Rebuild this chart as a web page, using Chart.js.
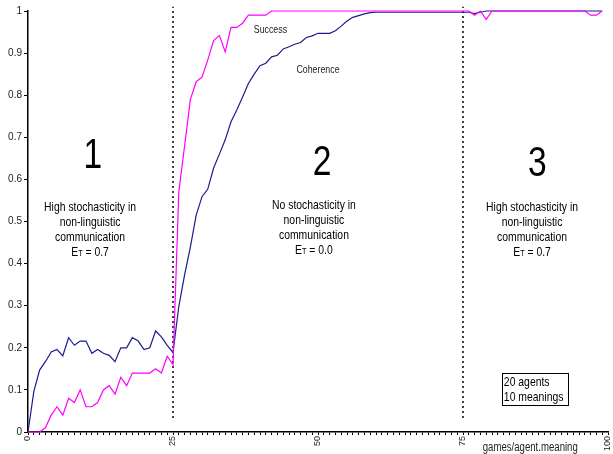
<!DOCTYPE html>
<html>
<head>
<meta charset="utf-8">
<script src="https://cdn.jsdelivr.net/npm/chart.js@4/dist/chart.umd.min.js"></script>
<style>
  body { margin: 0; background: #fff; }
  canvas { display: block; }
</style>
</head>
<body>
<canvas id="chart" width="613" height="454"></canvas>
<script>
// games/agent.meaning, one value per step 0..99
var coherence = [
  0, 0.096, 0.147, 0.167, 0.19, 0.196, 0.181, 0.224, 0.206, 0.216,
  0.216, 0.187, 0.196, 0.187, 0.182, 0.167, 0.2, 0.2, 0.224, 0.216,
  0.196, 0.2, 0.24, 0.226, 0.206, 0.189, 0.298, 0.373, 0.44, 0.515,
  0.559, 0.577, 0.627, 0.66, 0.694, 0.737, 0.765, 0.796, 0.828, 0.85,
  0.87, 0.876, 0.891, 0.895, 0.91, 0.915, 0.921, 0.925, 0.937, 0.941,
  0.947, 0.947, 0.947, 0.953, 0.964, 0.976, 0.985, 0.989, 0.993, 0.996,
  0.997, 0.997, 0.997, 0.997, 0.997, 0.997, 0.997, 0.997, 0.997, 0.997,
  0.997, 0.997, 0.997, 0.997, 0.997, 0.997, 0.997, 0.994, 0.997, 1,
  1, 1, 1, 1, 1, 1, 1, 1, 1, 1,
  1, 1, 1, 1, 1, 1, 1, 1, 1, 1
];
var success = [
  0, 0, 0, 0.01, 0.04, 0.06, 0.04, 0.08, 0.07, 0.1,
  0.06, 0.06, 0.07, 0.1, 0.11, 0.09, 0.13, 0.11, 0.14, 0.14,
  0.14, 0.14, 0.15, 0.14, 0.18, 0.16, 0.57, 0.68, 0.79, 0.832,
  0.843, 0.884, 0.93, 0.942, 0.903, 0.961, 0.961, 0.971, 0.99, 0.99,
  0.99, 0.99, 1, 1, 1, 1, 1, 1, 1, 1,
  1, 1, 1, 1, 1, 1, 1, 1, 1, 1,
  1, 1, 1, 1, 1, 1, 1, 1, 1, 1,
  1, 1, 1, 1, 1, 1, 1, 0.99, 1, 0.98,
  1, 1, 1, 1, 1, 1, 1, 1, 1, 1,
  1, 1, 1, 1, 1, 1, 1, 0.99, 0.99, 1
];
var phaseBounds = [25, 75];
var xTickLabels = [0, 25, 50, 75, 100];
var phaseNumbers = ['1', '2', '3'];
var phaseText = [
  ['High stochasticity in', 'non-linguistic', 'communication', '0.7'],
  ['No stochasticity in', 'non-linguistic', 'communication', '0.0'],
  ['High stochasticity in', 'non-linguistic', 'communication', '0.7']
];
var boxText = ['20 agents', '10 meanings'];
var xTitle = 'games/agent.meaning';

var FONT = '"Liberation Sans", Arial, sans-serif';
var NARROW = 0.8;

function toPoints(arr) {
  return arr.map(function(v, i) { return { x: i, y: v }; });
}

var datasets = [
  {
    label: 'Success',
    data: toPoints(success),
    borderColor: '#ff00ff',
    borderWidth: 1.2,
    pointRadius: 0,
    tension: 0,
    clip: false
  },
  {
    label: 'Coherence',
    data: toPoints(coherence),
    borderColor: '#1c1c8c',
    borderWidth: 1.2,
    pointRadius: 0,
    tension: 0,
    clip: false
  }
];
phaseBounds.forEach(function(b) {
  datasets.push({
    label: 'bound' + b,
    data: [{ x: b, y: 0.033 }, { x: b, y: 1.01 }],
    borderColor: '#000',
    borderWidth: 1.5,
    borderDash: [2, 3],
    pointRadius: 0,
    clip: false
  });
});

// draw text squeezed horizontally (the original uses a condensed face)
function narrowText(ctx, text, x, y, align) {
  ctx.save();
  ctx.translate(x, y);
  ctx.scale(NARROW, 1);
  ctx.textAlign = align;
  ctx.fillText(text, 0, 0);
  ctx.restore();
}

function drawET(ctx, cx, y, val, size) {
  var small = Math.round(size * 0.72);
  ctx.font = size + 'px ' + FONT;
  var wE = ctx.measureText('E').width;
  var wRest = ctx.measureText(' = ' + val).width;
  ctx.font = small + 'px ' + FONT;
  var wT = ctx.measureText('T').width;
  var x = cx - (wE + wT + wRest) * NARROW / 2;
  ctx.font = size + 'px ' + FONT;
  narrowText(ctx, 'E', x, y, 'left');
  ctx.font = small + 'px ' + FONT;
  narrowText(ctx, 'T', x + wE * NARROW, y + 1, 'left');
  ctx.font = size + 'px ' + FONT;
  narrowText(ctx, ' = ' + val, x + (wE + wT) * NARROW, y, 'left');
}

var annotations = {
  id: 'annotations',
  afterDatasetsDraw: function(chart) {
    var ctx = chart.ctx;
    var xs = chart.scales.x, ys = chart.scales.y;
    ctx.save();
    ctx.fillStyle = '#000';
    ctx.textBaseline = 'middle';

    // big phase numbers
    var numPos = [[11.2, 0.655], [50.7, 0.637], [87.8, 0.635]];
    ctx.font = '42px ' + FONT;
    phaseNumbers.forEach(function(n, i) {
      narrowText(ctx, n, xs.getPixelForValue(numPos[i][0]), ys.getPixelForValue(numPos[i][1]), 'center');
    });

    // phase descriptions
    var textPos = [[10.7, 0.534], [49.3, 0.539], [86.9, 0.534]];
    phaseText.forEach(function(lines, i) {
      var cx = xs.getPixelForValue(textPos[i][0]);
      var y0 = ys.getPixelForValue(textPos[i][1]);
      ctx.font = '13px ' + FONT;
      for (var k = 0; k < 3; k++) {
        narrowText(ctx, lines[k], cx, y0 + k * 15, 'center');
      }
      drawET(ctx, cx, y0 + 45, lines[3], 13);
    });

    // series labels
    ctx.font = '11px ' + FONT;
    ctx.fillStyle = '#222';
    narrowText(ctx, 'Success', xs.getPixelForValue(41.8), ys.getPixelForValue(0.955), 'center');
    narrowText(ctx, 'Coherence', xs.getPixelForValue(50), ys.getPixelForValue(0.86), 'center');

    // info box
    var bx0 = xs.getPixelForValue(81.7), bx1 = xs.getPixelForValue(93.1);
    var by0 = ys.getPixelForValue(0.14), by1 = ys.getPixelForValue(0.064);
    ctx.strokeStyle = '#000';
    ctx.lineWidth = 1;
    ctx.strokeRect(Math.round(bx0) + 0.5, Math.round(by0) + 0.5, Math.round(bx1 - bx0), Math.round(by1 - by0));
    ctx.fillStyle = '#000';
    ctx.font = '13px ' + FONT;
    narrowText(ctx, boxText[0], bx0 + 2, by0 + 9, 'left');
    narrowText(ctx, boxText[1], bx0 + 2, by0 + 24, 'left');

    // x title
    ctx.font = '12px ' + FONT;
    ctx.fillStyle = '#222';
    narrowText(ctx, xTitle, xs.getPixelForValue(86.6), chart.height - 6, 'center');
    ctx.restore();
  }
};

new Chart(document.getElementById('chart'), {
  type: 'line',
  data: { datasets: datasets },
  options: {
    responsive: false,
    animation: false,
    layout: { padding: { top: 11, right: 5, bottom: 0, left: 0 } },
    plugins: { legend: { display: false }, tooltip: { enabled: false } },
    scales: {
      x: {
        type: 'linear',
        min: 0,
        max: 100,
        afterFit: function(s) { s.height = 22; s.paddingLeft = 0; s.paddingRight = 0; },
        border: { color: '#000', width: 1.5 },
        grid: { drawOnChartArea: false, color: '#000', tickLength: 3 },
        ticks: {
          stepSize: 1,
          autoSkip: false,
          maxTicksLimit: 200,
          minRotation: 90,
          maxRotation: 90,
          padding: 1,
          color: '#222',
          font: { family: FONT, size: 9 },
          callback: function(v) { return xTickLabels.indexOf(v) >= 0 ? String(v) : ''; }
        }
      },
      y: {
        min: 0,
        max: 1,
        afterFit: function(s) { s.width = 28; },
        border: { color: '#000', width: 1.5 },
        grid: { drawOnChartArea: false, color: '#000', tickLength: 4 },
        ticks: {
          stepSize: 0.1,
          padding: 2,
          color: '#222',
          font: { family: FONT, size: 10 },
          callback: function(v) { return String(Number(v.toFixed(1))); }
        }
      }
    }
  },
  plugins: [annotations]
});
</script>
</body>
</html>
